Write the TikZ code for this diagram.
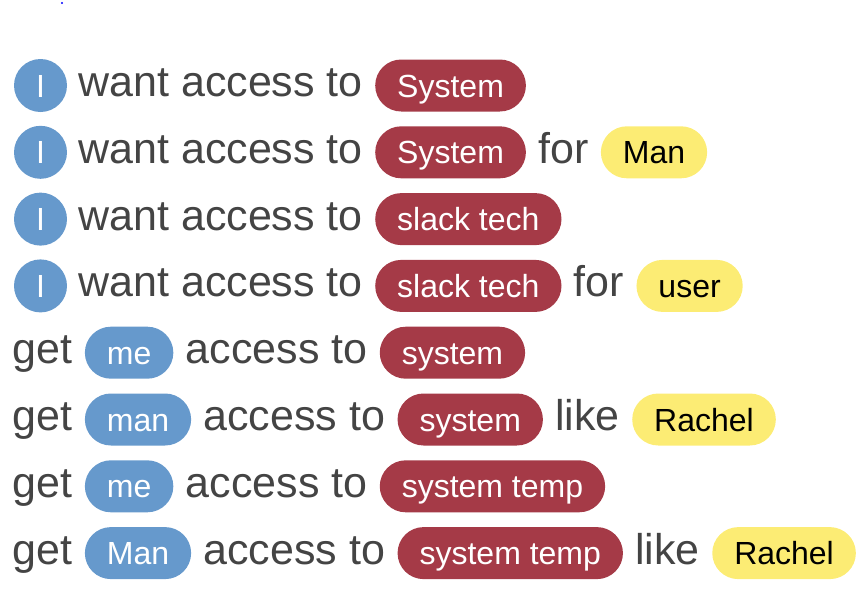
\documentclass[tikz,border=0pt]{standalone}
\usepackage{fontspec}
\setmainfont{Liberation Sans}
\usetikzlibrary{positioning}
\definecolor{txt}{HTML}{444444}
\definecolor{agentc}{HTML}{6699CC}
\definecolor{resc}{HTML}{A53A47}
\definecolor{extrac}{HTML}{FCEC74}
\newcommand\bigf{\fontsize{43}{50}\selectfont}
\newcommand\pillf{\fontsize{32}{38}\selectfont}
\begin{document}
\begin{tikzpicture}[x=1pt,y=-1pt,node distance=12pt,
  word/.style={inner sep=0pt,text=txt,font=\bigf,text height=31pt,text depth=9pt},
  pill/.style={font=\pillf,inner xsep=22pt,inner ysep=0pt,minimum height=52pt,rounded corners=26pt,text height=25pt,text depth=2pt},
  agent/.style={circle,fill=agentc,text=white,font=\pillf,inner sep=0pt,minimum size=53pt,text height=25pt,text depth=2pt},
  who/.style={pill,fill=agentc,text=white},
  res/.style={pill,fill=resc,text=white},
  extra/.style={pill,fill=extrac,text=black}]
\useasboundingbox (0,0) rectangle (867,592);
\fill[blue] (62,3) circle (1.2pt);
% I want access to ...
\foreach \r/\y in {1/85.5,2/152.3,3/219.1,4/285.9}{
  \node[agent] (i\r) at (40.5,\y) {I};
  \node[word,right=11pt of i\r] (w\r) {want access to};}
% get ... access to ...
\foreach \r/\y/\who in {5/352.7/me,6/419.5/man,7/486.3/me,8/553.1/Man}{
  \node[word,anchor=west] (g\r) at (12.5,\y) {get};
  \node[who,right=of g\r] (p\r) {\who};
  \node[word,right=of p\r] (a\r) {access to};}
\node[res,right=of w1] (r1) {System};
\node[res,right=of w2] (r2) {System};
\node[word,right=of r2] (f2) {for};
\node[extra,right=of f2] (e2) {Man};
\node[res,right=of w3] (r3) {slack tech};
\node[res,right=of w4] (r4) {slack tech};
\node[word,right=of r4] (f4) {for};
\node[extra,right=of f4] (e4) {user};
\node[res,right=of a5] (r5) {system};
\node[res,right=of a6] (r6) {system};
\node[word,right=of r6] (l6) {like};
\node[extra,right=of l6] (e6) {Rachel};
\node[res,right=of a7] (r7) {system temp};
\node[res,right=of a8] (r8) {system temp};
\node[word,right=of r8] (l8) {like};
\node[extra,right=of l8] (e8) {Rachel};
\end{tikzpicture}
\end{document}
